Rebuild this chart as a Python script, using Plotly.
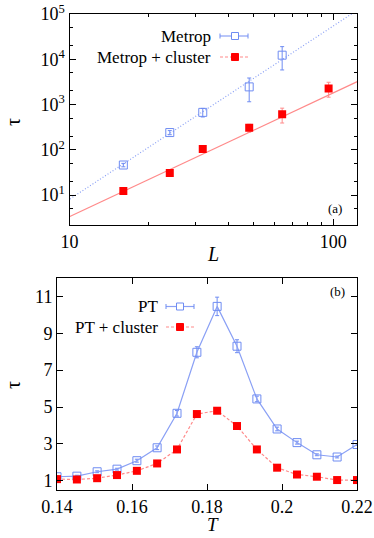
import numpy as np
import plotly.graph_objects as go

# ---------------- data: panel (a) ----------------
L_metrop = [16, 24, 32, 48, 64]
tau_metrop = [46, 240, 670, 2450, 12300]
err_metrop_up = [4, 25, 150, 1400, 6700]
err_metrop_dn = [4, 25, 140, 1300, 6500]

L_cluster = [16, 24, 32, 48, 64, 96]
tau_cluster = [12.3, 30.5, 104, 305, 610, 2250]
err_cluster_up = [1, 2, 8, 60, 220, 850]
err_cluster_dn = [1, 2, 8, 60, 220, 800]

# power-law fits tau = A * L^z
fit_metrop = dict(A=1.19e-3, z=3.83)
fit_cluster = dict(A=6.1e-3, z=2.736)
L_fit_range = [9, 130]

# ---------------- data: panel (b) ----------------
T_vals = [0.14, 0.1453, 0.1507, 0.156, 0.1613, 0.1667, 0.172, 0.1773,
          0.1827, 0.188, 0.1933, 0.1987, 0.204, 0.2093, 0.2147, 0.22]
tau_pt = [1.22, 1.25, 1.49, 1.63, 2.09, 2.79, 4.66, 7.97,
          10.46, 8.30, 5.44, 3.81, 3.07, 2.41, 2.29, 2.97]
err_pt = [0.05, 0.05, 0.05, 0.05, 0.08, 0.1, 0.15, 0.3,
          0.5, 0.35, 0.15, 0.1, 0.08, 0.05, 0.05, 0.05]
tau_ptc = [1.09, 1.07, 1.14, 1.31, 1.54, 1.94, 2.70, 4.62,
           4.80, 3.97, 2.70, 1.71, 1.34, 1.22, 1.04, 1.04]
err_ptc = [0.03] * 16

# tick labels
a_yticks = [10, 100, 1000, 10000, 100000]
a_yticktext = ["10<sup>1</sup>", "10<sup>2</sup>", "10<sup>3</sup>", "10<sup>4</sup>", "10<sup>5</sup>"]
a_xticks = [10, 100]
b_xticks = [0.14, 0.16, 0.18, 0.2, 0.22]
b_xticktext = ["0.14", "0.16", "0.18", "0.2", "0.22"]
b_yticks = [1, 3, 5, 7, 9, 11]

BLUE = "#6f8cf2"
BLUE_L = "#8aa0f5"
RED = "#ff0000"
RED_L = "#ff8a8a"
FONT = "Liberation Serif, DejaVu Serif, serif"

# pixel geometry helpers (figure 374x538, plot area x 57..357, y 14..490)
W, H = 374, 538
ML, MR, MT, MB = 57, 17, 14, 48
PW, PH = W - ML - MR, H - MT - MB


def px(x):
    return (x - ML) / PW


def py(y):
    return 1 - (y - MT) / PH


fig = go.Figure()

Lf = np.geomspace(L_fit_range[0], L_fit_range[1], 60)
fig.add_trace(go.Scatter(x=Lf, y=fit_metrop["A"] * Lf ** fit_metrop["z"], mode="lines",
                         line=dict(color=BLUE_L, width=1.2, dash="1px,2px"), xaxis="x", yaxis="y",
                         showlegend=False, hoverinfo="skip"))
fig.add_trace(go.Scatter(x=Lf, y=fit_cluster["A"] * Lf ** fit_cluster["z"], mode="lines",
                         line=dict(color=RED_L, width=1.2), xaxis="x", yaxis="y",
                         showlegend=False, hoverinfo="skip"))
fig.add_trace(go.Scatter(x=L_metrop, y=tau_metrop, mode="markers",
                         marker=dict(symbol="square-open", size=8, color=BLUE, line=dict(width=1)),
                         error_y=dict(type="data", array=err_metrop_up, arrayminus=err_metrop_dn,
                                      color=BLUE, thickness=1, width=2),
                         xaxis="x", yaxis="y", showlegend=False))
fig.add_trace(go.Scatter(x=L_cluster, y=tau_cluster, mode="markers",
                         marker=dict(symbol="square", size=8, color=RED),
                         error_y=dict(type="data", array=err_cluster_up, arrayminus=err_cluster_dn,
                                      color=RED_L, thickness=1, width=2),
                         xaxis="x", yaxis="y", showlegend=False))

fig.add_trace(go.Scatter(x=T_vals, y=tau_pt, mode="lines+markers",
                         line=dict(color=BLUE_L, width=1.2),
                         marker=dict(symbol="square-open", size=8, color=BLUE, line=dict(width=1)),
                         error_y=dict(type="data", array=err_pt, color=BLUE, thickness=1, width=2),
                         xaxis="x2", yaxis="y2", showlegend=False))
fig.add_trace(go.Scatter(x=T_vals, y=tau_ptc, mode="lines+markers",
                         line=dict(color=RED_L, width=1.2, dash="3px,2px"),
                         marker=dict(symbol="square", size=8, color=RED),
                         error_y=dict(type="data", array=err_ptc, color=RED_L, thickness=1, width=2),
                         xaxis="x2", yaxis="y2", showlegend=False))

axis_common = dict(showline=True, linecolor="black", linewidth=1, mirror="allticks",
                   ticks="inside", ticklen=6, tickcolor="black", showgrid=False, zeroline=False,
                   automargin=False,
                   tickfont=dict(family=FONT, size=18, color="black"))

fig.update_layout(
    width=W, height=H,
    margin=dict(l=ML, r=MR, t=MT, b=MB),
    paper_bgcolor="white", plot_bgcolor="white",
    font=dict(family=FONT, color="black"),
    xaxis=dict(**axis_common, type="log", domain=[px(69.5), 1], anchor="y",
               range=[1, np.log10(123)], tickvals=a_xticks, ticktext=["10", "100"],
               minor=dict(ticks="inside", ticklen=3, dtick="D1", tickcolor="black", showgrid=False)),
    yaxis=dict(**axis_common, type="log", domain=[py(225), 1], anchor="x",
               range=[0.337, 5], tickvals=a_yticks, ticktext=a_yticktext,
               minor=dict(ticks="inside", ticklen=3, dtick="D2", tickcolor="black", showgrid=False)),
    xaxis2=dict(**axis_common, domain=[0, 1], anchor="y2", range=[0.14, 0.22],
                tickvals=b_xticks, ticktext=b_xticktext),
    yaxis2=dict(**axis_common, domain=[0, py(278)], anchor="x2", range=[0.5, 12],
                tickvals=b_yticks),
)

ann = []
shapes = []


def text(x, y, s, size, xanchor="center", angle=0):
    ann.append(dict(x=px(x), y=py(y), xref="paper", yref="paper", text=s, showarrow=False,
                    xanchor=xanchor, yanchor="middle", textangle=angle,
                    font=dict(family=FONT, size=size, color="black")))


# axis titles
text(213, 254, "<i>L</i>", 20)
text(213, 524, "<i>T</i>", 19)
text(13, 122, "τ", 20, angle=-90)
text(13, 385, "τ", 20, angle=-90)


def legend_row(xr, y, label, x0, x1, xm, kind):
    text(xr, y, label, 17, xanchor="right")
    if kind == "blue":
        shapes.append(dict(type="line", xref="paper", yref="paper", x0=px(x0), x1=px(x1),
                           y0=py(y), y1=py(y), line=dict(color=BLUE_L, width=1.2)))
        for xc in (x0, x1):
            shapes.append(dict(type="line", xref="paper", yref="paper", x0=px(xc), x1=px(xc),
                               y0=py(y - 2.5), y1=py(y + 2.5), line=dict(color=BLUE, width=1)))
        shapes.append(dict(type="rect", xref="paper", yref="paper", x0=px(xm - 3.5), x1=px(xm + 3.5),
                           y0=py(y + 3.5), y1=py(y - 3.5), line=dict(color=BLUE, width=1),
                           fillcolor="white"))
    else:
        shapes.append(dict(type="line", xref="paper", yref="paper", x0=px(x0), x1=px(x1),
                           y0=py(y), y1=py(y), line=dict(color=RED_L, width=1.2, dash="3px,2px")))
        shapes.append(dict(type="rect", xref="paper", yref="paper", x0=px(xm - 3.5), x1=px(xm + 3.5),
                           y0=py(y + 3.5), y1=py(y - 3.5), line=dict(color=RED, width=1),
                           fillcolor=RED))


legend_row(213, 36, "Metrop", 220, 248, 235, "blue")
legend_row(213, 57, "Metrop + cluster", 220, 248, 235, "red")
legend_row(160, 306.5, "PT", 166, 194, 180, "blue")
legend_row(160, 327, "PT + cluster", 166, 194, 180, "red")

text(344, 208, "(a)", 13, xanchor="right")
text(347, 291, "(b)", 13, xanchor="right")

fig.update_layout(annotations=ann, shapes=shapes)
fig.write_html("out.html", config={"displayModeBar": False},
               post_script="document.body.style.margin='0';document.body.style.padding='0';")
